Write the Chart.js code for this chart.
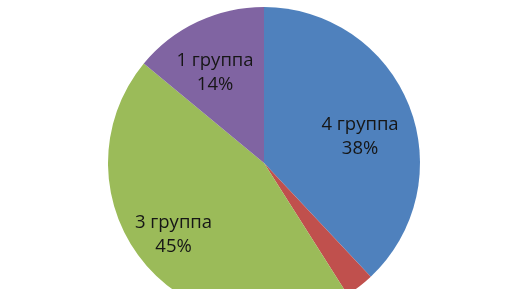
<!DOCTYPE html>
<html>
<head>
<meta charset="utf-8">
<script src="https://cdn.jsdelivr.net/npm/chart.js@4/dist/chart.umd.min.js"></script>
<style>
html,body{margin:0;padding:0;background:#fff;overflow:hidden;width:516px;height:289px;}
#wrap{position:absolute;left:0;top:0;width:516px;height:319px;}
</style>
</head>
<body>
<div id="wrap"><canvas id="c" width="516" height="319"></canvas></div>
<script>
const categories = ["4 группа", "2 группа", "3 группа", "1 группа"];
const values = [38, 3, 45, 14];
const colors = ["#4F81BD", "#C0504D", "#9BBB59", "#8064A2"];

// label placement (fraction of radius, angular shift in degrees from slice middle)
const labelFrac = [0.638, 0.7, 0.739, 0.66];
const labelShift = [6.45, 0, 3.1, -3.2];

const labelPlugin = {
  id: 'sliceLabels',
  afterDatasetsDraw(chart) {
    const ctx = chart.ctx;
    const meta = chart.getDatasetMeta(0);
    const total = values.reduce((a, b) => a + b, 0);
    ctx.save();
    ctx.font = '18.5px "Open Sans", "DejaVu Sans", sans-serif';
    ctx.fillStyle = '#161616';
    ctx.textAlign = 'center';
    ctx.textBaseline = 'middle';
    meta.data.forEach((arc, i) => {
      const pct = Math.round(values[i] / total * 100);
      if (pct < 5) return;
      const p = arc.getProps(['x', 'y', 'startAngle', 'endAngle', 'outerRadius'], true);
      const mid = (p.startAngle + p.endAngle) / 2 + labelShift[i] * Math.PI / 180;
      const r = p.outerRadius * labelFrac[i];
      const x = p.x + Math.cos(mid) * r;
      const y = p.y + Math.sin(mid) * r;
      ctx.fillText(categories[i], x, y - 12);
      ctx.fillText(pct + '%', x, y + 12);
    });
    ctx.restore();
  }
};

new Chart(document.getElementById('c'), {
  type: 'pie',
  data: {
    labels: categories,
    datasets: [{
      data: values,
      backgroundColor: colors,
      borderWidth: 0
    }]
  },
  options: {
    responsive: false,
    animation: false,
    layout: { padding: { left: 12, top: 7, right: 0, bottom: 0 } },
    plugins: {
      legend: { display: false },
      tooltip: { enabled: false }
    }
  },
  plugins: [labelPlugin]
});
</script>
</body>
</html>
